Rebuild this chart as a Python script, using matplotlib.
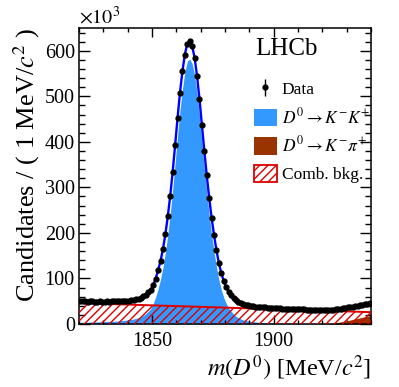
import numpy as np
import matplotlib
matplotlib.use("Agg")
import matplotlib.pyplot as plt
from matplotlib.patches import Patch
from matplotlib.ticker import MultipleLocator

plt.rcParams['font.family'] = ['Liberation Serif', 'DejaVu Serif']
plt.rcParams['mathtext.fontset'] = 'stix'
plt.rcParams['hatch.linewidth'] = 1.0
plt.rcParams['hatch.color'] = '#dd0000'

# ---- data (units of 10^3 candidates per 1 MeV/c^2 bin) ----
bin_lo = 1820
n_bins = 120
mass = np.arange(n_bins) + bin_lo + 0.5

data = [49.9, 49.8, 49.6, 49.4, 49.8, 49.6, 49.4, 49.3, 49.6, 49.4,
        49.3, 49.6, 49.4, 49.8, 49.6, 49.9, 50.3, 50.6, 50.9, 51.3,
        51.6, 52.4, 53.3, 54.6, 55.9, 57.8, 60.6, 64.4, 69.3, 75.1,
        85.9, 99.8, 117.6, 138.4, 164.3, 197.1, 236.9, 281.8, 334.6, 392.4,
        452.3, 508.1, 554.9, 591.8, 615.6, 620.4, 610.3, 585.1, 544.9, 494.8,
        437.6, 380.4, 326.3, 277.1, 232.9, 194.8, 161.6, 133.4, 111.3, 94.1,
        80.9, 70.8, 63.6, 57.4, 52.3, 49.1, 45.9, 43.8, 42.1, 40.9,
        39.8, 39.1, 38.4, 37.8, 37.1, 36.6, 36.3, 35.9, 35.5, 35.2,
        34.8, 34.5, 34.3, 34.0, 33.7, 33.5, 33.2, 33.0, 32.8, 32.6,
        32.3, 32.2, 32.0, 31.7, 31.6, 31.4, 31.2, 31.0, 30.8, 30.6,
        30.7, 30.8, 31.0, 31.4, 31.8, 32.3, 33.0, 33.7, 34.5, 35.4,
        36.3, 37.2, 38.3, 39.3, 40.3, 41.4, 42.4, 43.4, 44.5, 45.5]

signal_kk = [4, 4, 4, 4, 4.5, 4.5, 4.5, 4.5, 5, 5,
             5, 5.5, 5.5, 6, 6, 6.5, 7, 7.5, 8, 8.5,
             9, 10, 11, 12.5, 14, 16, 19, 23, 28, 34,
             45, 59, 77, 98, 124, 157, 197, 242, 295, 353,
             413, 469, 516, 553, 577, 582, 572, 547, 507, 457,
             400, 343, 289, 240, 196, 158, 125, 97, 75, 58,
             45, 35, 28, 22, 17, 14, 11, 9, 7.5, 6.5,
             5.5, 5, 4.5, 4, 3.5, 3.2, 3, 2.8, 2.6, 2.4,
             2.2, 2.1, 2.0, 1.9, 1.8, 1.7, 1.6, 1.6, 1.5, 1.5,
             1.4, 1.4, 1.4, 1.3, 1.3, 1.3, 1.3, 1.2, 1.2, 1.2,
             1.1, 1.1, 1.1, 1.1, 1.1, 1.1, 1.1, 1.1, 1.1, 1.1,
             1.1, 1.1, 1.1, 1.1, 1.1, 1.1, 1.1, 1.1, 1.1, 1.1]

kpi_mass = [1920, 1920.5, 1921.5, 1922.5, 1923.5, 1924.5, 1925.5, 1926.5, 1927.5,
            1928.5, 1929.5, 1930.5, 1931.5, 1932.5, 1933.5, 1934.5, 1935.5,
            1936.5, 1937.5, 1938.5, 1939.5, 1940]
kpi_val = [0, 0.3, 0.6, 1.0, 1.5, 2.1, 2.8, 3.6, 4.5, 5.5, 6.5, 7.6, 8.7,
           9.9, 11.1, 12.3, 13.5, 14.7, 15.9, 17.1, 18.3, 18.9]

comb_mass = [1820, 1940]
comb_val = [46, 26]

x_ticks = [1850, 1900]
y_ticks = [0, 100, 200, 300, 400, 500, 600]

c_blue_fill = '#3399ff'
c_brown = '#993300'
c_red = '#dd0000'

fig = plt.figure(figsize=(3.99, 3.87), dpi=100)
ax = fig.add_axes([79/399, 1-324/387, (371-79)/399, (324-28)/387])

data_arr = np.array(data)
err = np.sqrt(data_arr * 1e3) / 1e3

ax.fill_between(mass, 0, signal_kk, color=c_blue_fill, lw=0, zorder=1)
ax.fill_between(kpi_mass, 0, kpi_val, color=c_brown, lw=0, zorder=2)
ax.fill_between(comb_mass, 0, comb_val, facecolor='none', edgecolor=c_red,
                hatch='////', lw=0, zorder=3)
ax.plot(comb_mass, comb_val, color=c_red, lw=1.4, zorder=3.5)
ax.plot(mass, data, color='#0000ff', lw=1.7, zorder=4)
eb = ax.errorbar(mass, data, yerr=err, fmt='o', ms=3.5, color='k',
                 elinewidth=1, capsize=0, zorder=5)

ax.set_xlim(1820, 1940)
ax.set_ylim(0, 650)
ax.set_xticks(x_ticks)
ax.set_yticks(y_ticks)
ax.xaxis.set_minor_locator(MultipleLocator(10))
ax.yaxis.set_minor_locator(MultipleLocator(20))
ax.tick_params(which='both', direction='in', top=True, right=True, labelsize=14.5)
ax.tick_params(axis='x', which='major', length=6.5, width=1, pad=6)
ax.tick_params(axis='x', which='minor', length=3.2, width=1)
ax.tick_params(axis='y', which='major', length=8, width=1, pad=3)
ax.tick_params(axis='y', which='minor', length=4.3, width=1)
for s in ax.spines.values():
    s.set_linewidth(1.1)

ax.set_xlabel(r'$m(D^0)$ [MeV/$c^2$]', fontsize=17.5, loc='right', labelpad=2)
ax.set_ylabel(r'Candidates / ( 1 MeV/$c^2$ )', fontsize=19, loc='top', labelpad=2)

fig.text(79/399, 1-24/387, r'$\times 10^3$', fontsize=14.5, ha='left', va='baseline')
fig.text(255/399, 1-55/387, 'LHCb', fontsize=18, ha='left', va='baseline')

handles = [eb,
           Patch(facecolor=c_blue_fill, edgecolor='none'),
           Patch(facecolor=c_brown, edgecolor='none'),
           Patch(facecolor='white', edgecolor=c_red, hatch='////', lw=1.3)]
labels = ['Data', r'$D^0 \to K^{-}K^{+}$', r'$D^0 \to K^{-}\pi^{+}$', 'Comb. bkg.']
fig.legend(handles, labels, loc='upper left', bbox_to_anchor=(254/399, 1-80/387),
           frameon=False, fontsize=12.5, handlelength=1.3, handleheight=1.15,
           labelspacing=0.5, handletextpad=0.3, borderpad=0, borderaxespad=0)

fig.savefig('out.png', dpi=100)
